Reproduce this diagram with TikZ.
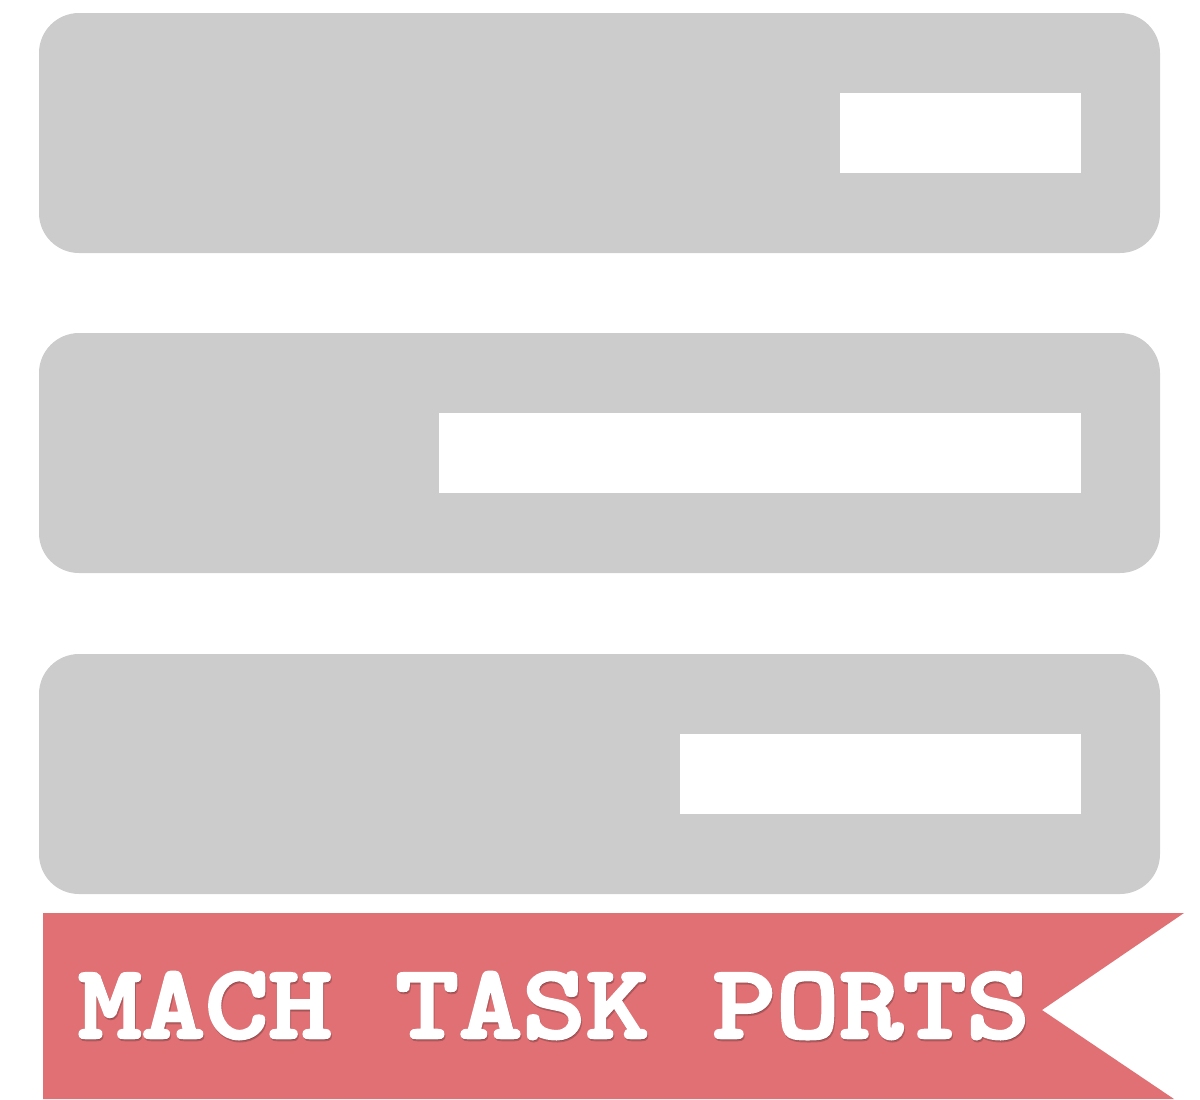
\documentclass[tikz,border=0pt]{standalone}
\usepackage{fontspec}
\usepackage{xcolor}
\usepackage{tikz}

\newfontfamily\titlefont{lmmonolt10-bold.otf}[FakeBold=2.5]
\definecolor{bargray}{HTML}{CCCCCC}
\definecolor{bannerred}{HTML}{E07074}

\begin{document}
\begin{tikzpicture}[x=0.5pt, y=-0.5pt,
    bar/.style={fill=bargray, rounded corners=20pt},
    slot/.style={fill=white},
    title/.style={anchor=base, xscale=1.14, font=\fontsize{53}{60}\selectfont\titlefont}]
    % Page size
    \useasboundingbox (0,0) rectangle (1200,1099);

    % Port bars
    \foreach \top/\left in {13/840, 333/439, 654/680} {
        \fill[bar] (39,\top) rectangle (1160,\top+240);
        \fill[slot] (\left,\top+80) rectangle (1081,\top+160);
    }

    % Banner
    \fill[bannerred] (43,913) -- (1184,913) -- (1042,1010) -- (1174,1099) -- (43,1099) -- cycle;

    % Title
    \node[title, text=black, opacity=0.2] (shadow) at (555,1040) {MACH TASK PORTS};
    \node[title, text=white] (label) at (554,1038) {MACH TASK PORTS};
\end{tikzpicture}
\end{document}
